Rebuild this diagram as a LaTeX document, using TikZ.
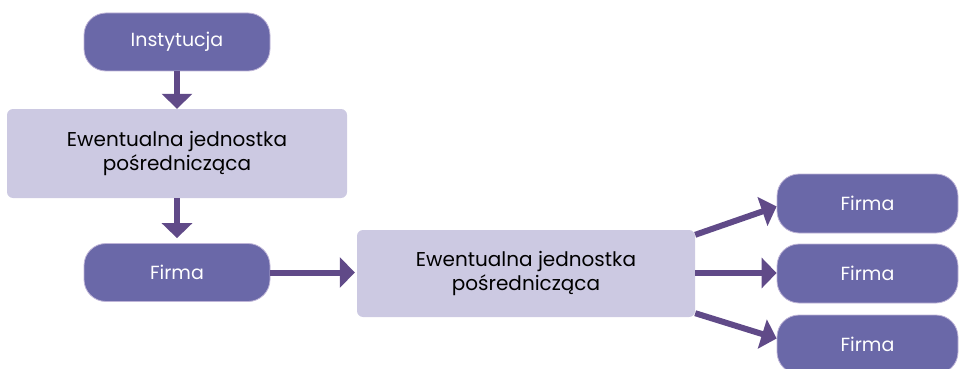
\documentclass[tikz,border=0pt]{standalone}
\usepackage{fontspec}
\setmainfont{Poppins}
\usetikzlibrary{arrows.meta,calc}
\definecolor{firmfill}{RGB}{106,104,168}
\definecolor{firmedge}{RGB}{190,180,215}
\definecolor{unitfill}{RGB}{204,201,226}
\definecolor{arrowcol}{RGB}{96,74,136}
\tikzset{
  firmbox/.style={draw=firmedge, line width=0.8pt, fill=firmfill, rounded corners=22pt,
    minimum width=186pt, minimum height=58pt, inner sep=0pt, text=white,
    font=\fontsize{19}{22}\selectfont},
  unitbox/.style={fill=unitfill, rounded corners=6pt, inner sep=0pt,
    text=black, align=center, font=\fontsize{20}{24}\selectfont},
  flow/.style={draw=arrowcol, line width=6pt,
    -{Triangle[width=30pt,length=15pt]}},
}
\begin{document}
\begin{tikzpicture}[x=1pt,y=-1pt]
  \useasboundingbox (0,0) rectangle (959,369);
  \begin{scope}
    \clip (0,0) rectangle (959,369);
    \node[firmbox] (inst) at (177,42) {Instytucja};
    \node[unitbox, minimum width=340pt, minimum height=89pt] (unitA) at (177,153.5)
      {Ewentualna jednostka\\pośrednicząca};
    \node[firmbox] (firmA) at (177,272.5) {Firma};
    \node[unitbox, minimum width=338pt, minimum height=87pt] (unitB) at (526,273.5)
      {Ewentualna jednostka\\pośrednicząca};
    \node[firmbox, minimum width=181pt, minimum height=59pt] (firmB) at (867.5,203.5) {Firma};
    \node[firmbox, minimum width=181pt, minimum height=59pt] (firmC) at (867.5,273.5) {Firma};
    \node[firmbox, minimum width=181pt, minimum height=59pt] (firmD) at (867.5,344.5) {Firma};
  \end{scope}
  \draw[flow] (inst.south) -- (unitA.north);
  \draw[flow] (unitA.south) -- ($(firmA.north)+(0,5pt)$);
  \draw[flow] (firmA.east) -- ($(firmA.east -| unitB.west)+(-2pt,0)$);
  \draw[flow] ($(unitB.north east)+(0,-5pt)$) -- ($(firmB.west)+(0,-3pt)$);
  \draw[flow] ($(unitB.east)+(0,0.5pt)$) -- ($(firmC.west)+(0,0.5pt)$);
  \draw[flow] ($(unitB.south east)+(0,4pt)$) -- ($(firmD.west)+(0,6pt)$);
\end{tikzpicture}
\end{document}
